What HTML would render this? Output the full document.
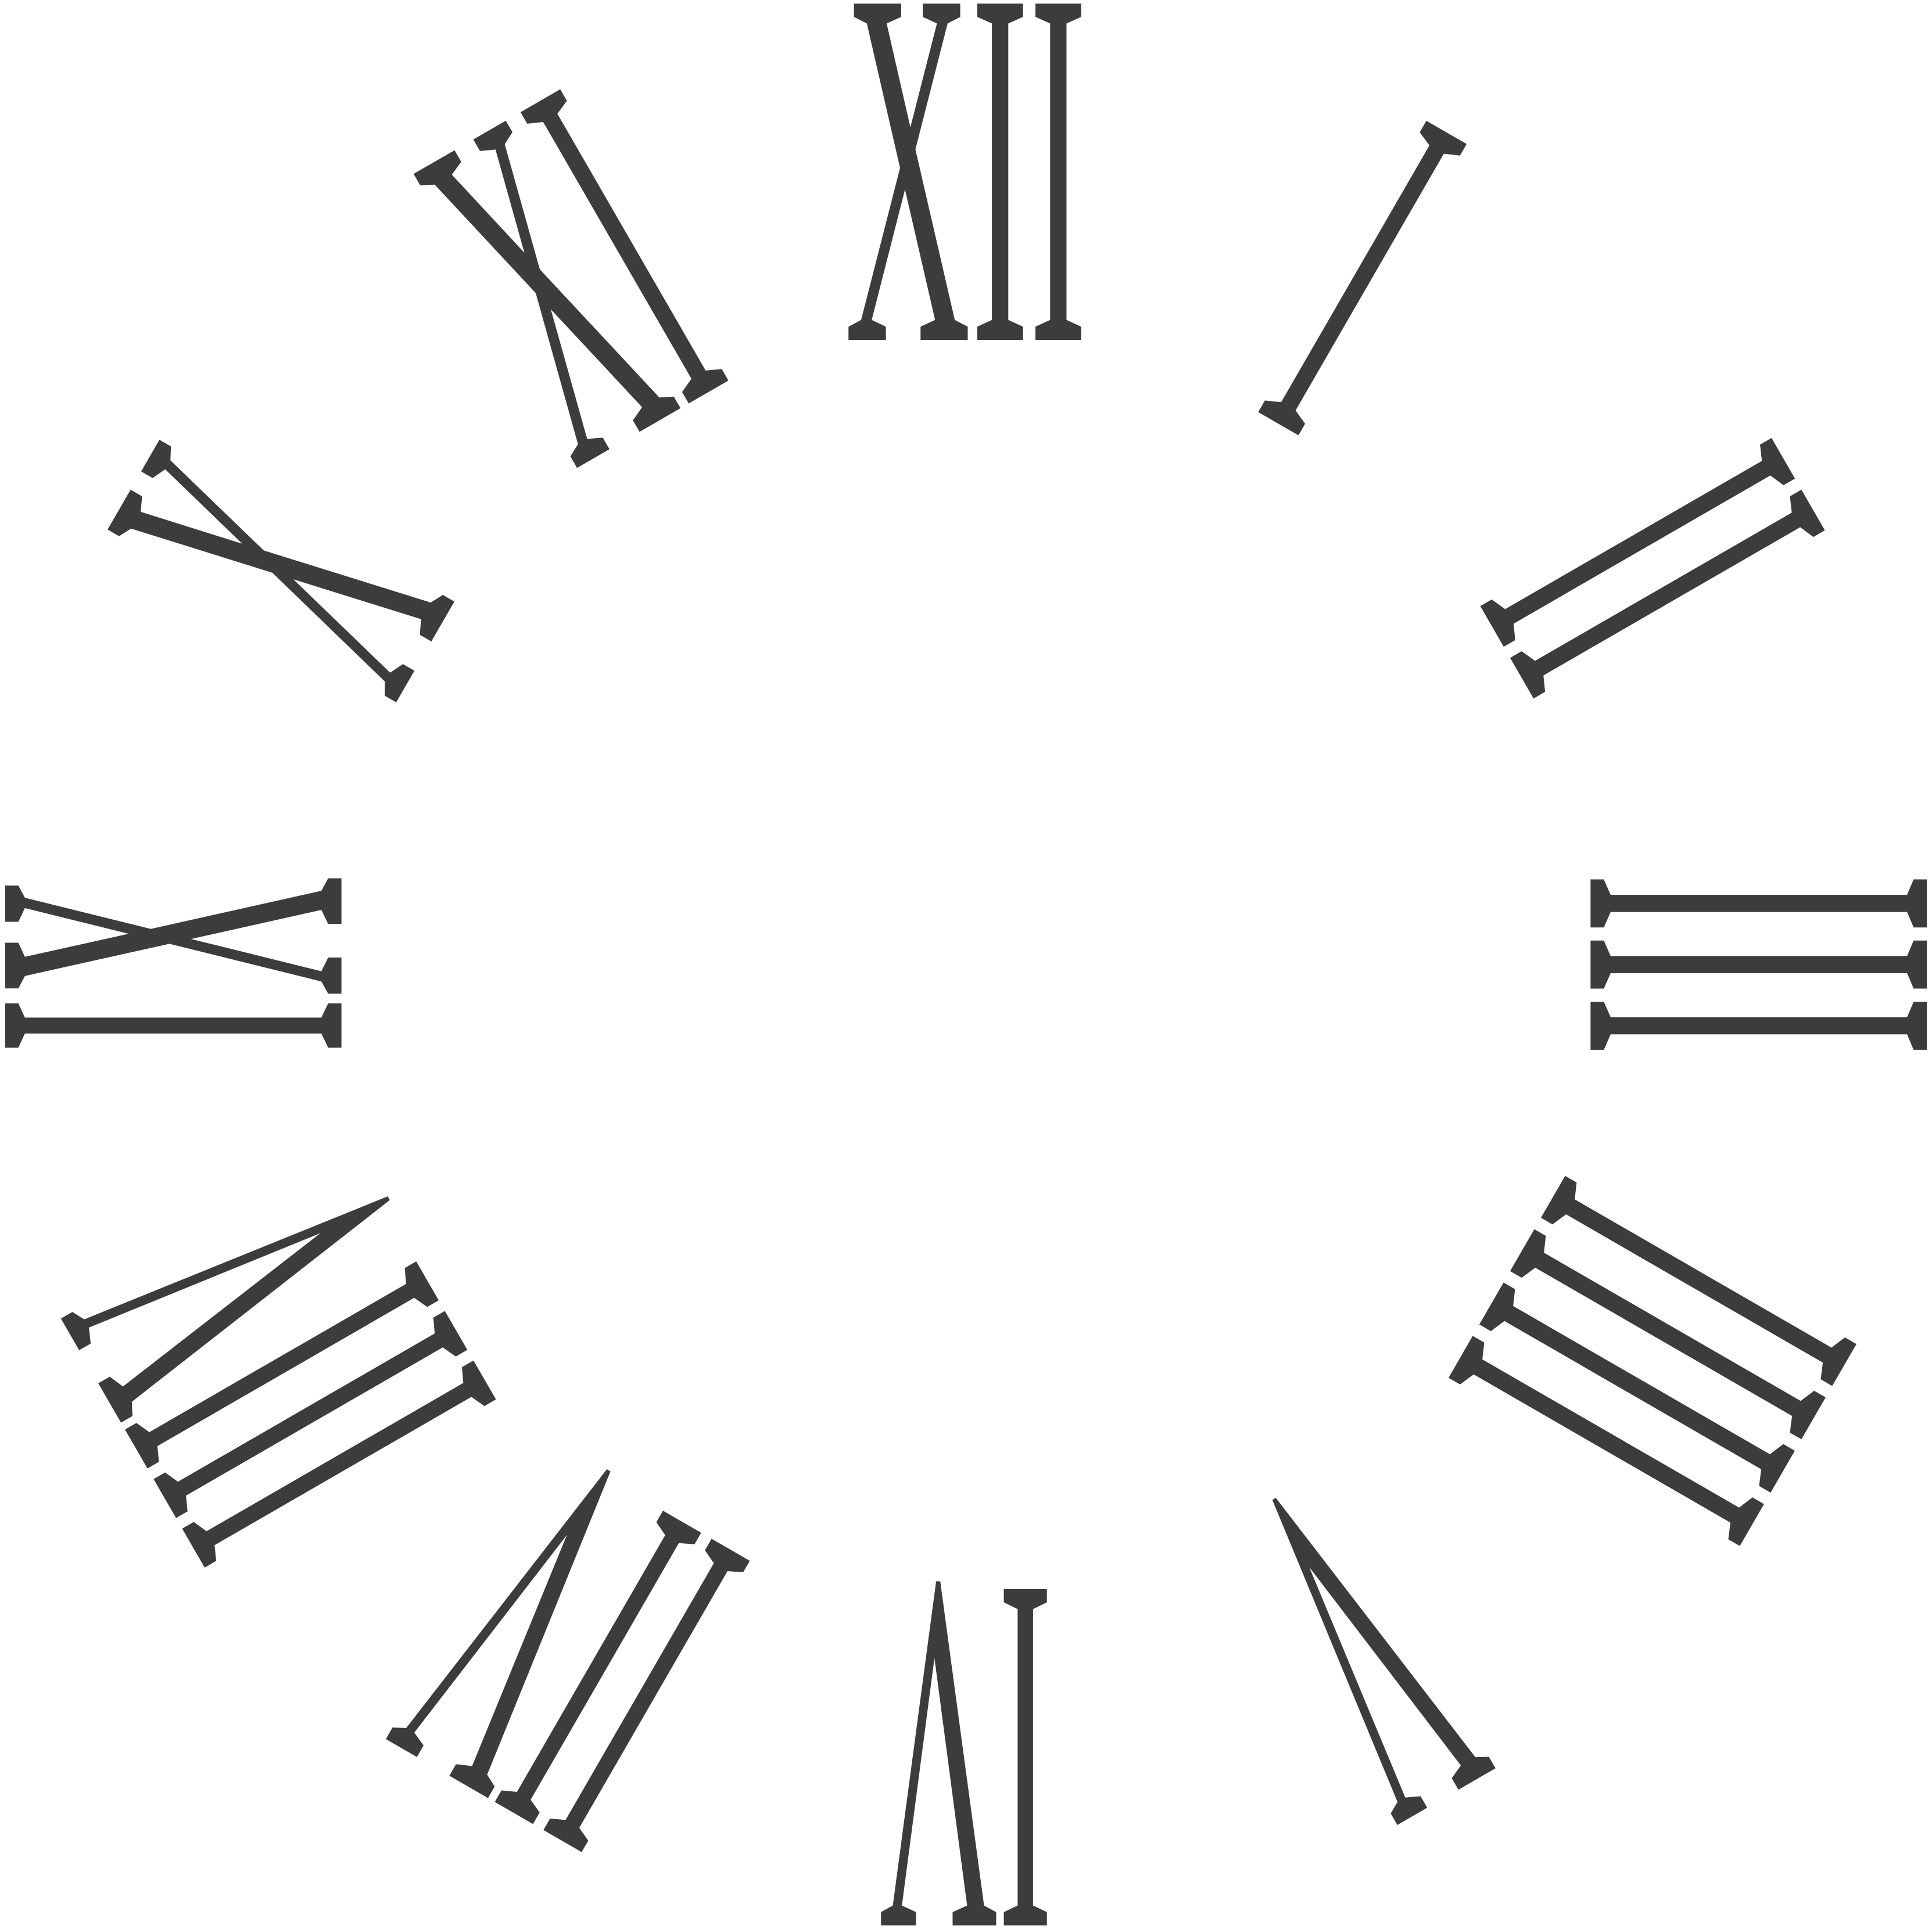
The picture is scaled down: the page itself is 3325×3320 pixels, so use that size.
<!DOCTYPE html>
<html>
<head>
<meta charset="utf-8">
<style>
  html,body{margin:0;padding:0;background:#fff;width:3325px;height:3320px;overflow:hidden;}
  svg{display:block;}
  text{font-family:"Liberation Serif",serif;fill:#3c3c3c;}
</style>
</head>
<body>
<svg id="clock" width="3325" height="3320" viewBox="0 0 1568 1566" xmlns="http://www.w3.org/2000/svg">
  <rect width="1568" height="1566" fill="#fff"/>
</svg>
<script>
const numerals = ["XII","I","II","III","IIII","V","VI","VII","VIII","IX","X","XI"];
const hours = [0,1,2,3,4,5,6,7,8,9,10,11];
const widths = [197,48,97,149,200,95,141,190,240,145,100,150];
const reversed = [false,false,false,false,false,false,true,true,true,false,false,false];
const cx = 784, cy = 783, innerR = 507, fontSize = 417;
const svg = document.getElementById('clock');
const NS = "http://www.w3.org/2000/svg";
for (let i = 0; i < numerals.length; i++) {
  const t = document.createElementNS(NS, 'text');
  
  
  t.setAttribute('x', cx);
  t.setAttribute('y', cy - innerR);
  t.setAttribute('font-size', fontSize);
  t.setAttribute('text-anchor', 'middle');
  t.setAttribute('textLength', widths[i]);
  t.setAttribute('lengthAdjust', 'spacingAndGlyphs');
  if (reversed[i]) {
    t.setAttribute('direction', 'rtl');
    t.setAttribute('unicode-bidi', 'bidi-override');
    t.style.direction = 'rtl';
    t.style.unicodeBidi = 'bidi-override';
  }
  t.setAttribute('transform', 'rotate(' + (hours[i] * 30) + ' ' + cx + ' ' + cy + ')');
  t.textContent = numerals[i];
  svg.appendChild(t);
}
</script>
</body>
</html>
